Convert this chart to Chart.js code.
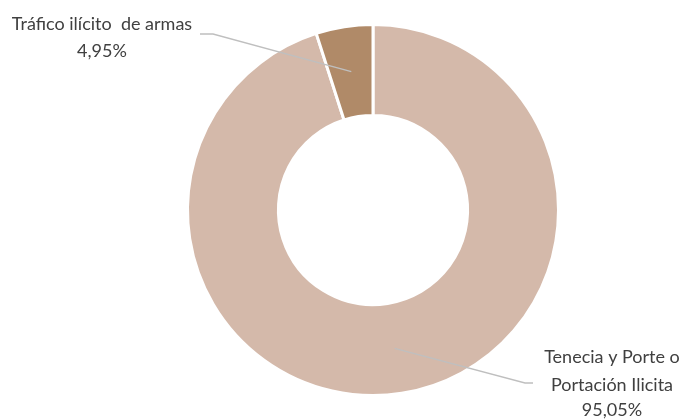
<!DOCTYPE html>
<html>
<head>
<meta charset="utf-8">
<script src="https://cdn.jsdelivr.net/npm/chart.js@4"></script>
<style>
html,body{margin:0;padding:0;background:#fff;}
#wrap{width:686px;height:420px;position:relative;}
</style>
</head>
<body>
<div id="wrap"><canvas id="c" width="686" height="420"></canvas></div>
<script>
const categories = ["Tenecia y Porte o Portación Ilicita", "Tráfico ilícito  de armas"];
const labelLines = [["Tenecia y Porte o", "Portación Ilicita"], ["Tráfico ilícito  de armas"]];
const values = [95.05, 4.95];
const valueLabels = ["95,05%", "4,95%"];
const colors = ["#D4B9AA", "#B08A68"];

const labelLayout = [
  {elbow: [525, 383], end: [533, 383], textX: 612, baselines: [363, 391, 416]},
  {elbow: [213, 34], end: [200, 34], textX: 102, baselines: [30, 57]}
];

const leaderPlugin = {
  id: 'leader',
  afterDatasetsDraw(chart) {
    const ctx = chart.ctx;
    const meta = chart.getDatasetMeta(0);
    ctx.save();
    meta.data.forEach((arc, i) => {
      const p = arc.getCenterPoint();
      const L = labelLayout[i];
      ctx.strokeStyle = '#BFBFBF';
      ctx.lineWidth = 1.3;
      ctx.beginPath();
      ctx.moveTo(p.x, p.y);
      ctx.lineTo(L.elbow[0], L.elbow[1]);
      ctx.lineTo(L.end[0], L.end[1]);
      ctx.stroke();
      ctx.fillStyle = '#404040';
      ctx.font = '18px Lato';
      ctx.textAlign = 'center';
      ctx.textBaseline = 'alphabetic';
      const lines = labelLines[i].concat([valueLabels[i]]);
      lines.forEach((t, k) => ctx.fillText(t, L.textX, L.baselines[k]));
    });
    ctx.restore();
  }
};

new Chart(document.getElementById('c'), {
  type: 'doughnut',
  data: {
    labels: categories,
    datasets: [{
      data: values,
      backgroundColor: colors,
      borderColor: '#FFFFFF',
      borderWidth: 3,
      hoverOffset: 0
    }]
  },
  options: {
    responsive: false,
    animation: false,
    cutout: '51%',
    layout: {padding: {top: 23, bottom: 23, left: 186, right: 126}},
    plugins: {legend: {display: false}, tooltip: {enabled: false}}
  },
  plugins: [leaderPlugin]
});
</script>
</body>
</html>
